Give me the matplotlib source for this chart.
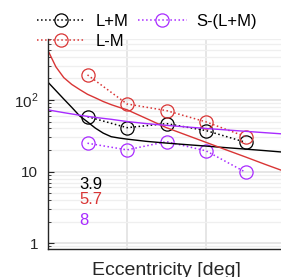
import matplotlib
matplotlib.use("Agg")
import matplotlib.pyplot as plt

plt.rcParams["font.family"] = ["Liberation Sans", "DejaVu Sans"]
plt.rcParams["mathtext.fontset"] = "custom"
plt.rcParams["mathtext.rm"] = "Liberation Sans"

# measured thresholds at each eccentricity
ecc = [5, 10, 15, 20, 25]
lum = [58.5, 41, 46.8, 37.4, 25.7]       # L+M
rg = [224, 88, 71, 49.4, 30.8]           # L-M
by = [24.9, 20.1, 26.2, 19.5, 9.8]       # S-(L+M)

# fitted curves
fit_x = [0, 1, 2, 3, 4, 5, 6, 7, 8, 9, 10, 12.5, 15, 17.5, 20, 22.5, 25, 27.5, 30]
fit_lum = [177, 135, 103, 79, 60, 49.4, 40.4, 34.4, 30.7, 29.4, 28.4, 26.4, 25.0,
           23.8, 22.7, 21.6, 20.6, 19.6, 18.6]
fit_rg = [490, 290, 205, 165, 140, 120, 107, 95, 86, 79, 73, 54.8, 41.0,
          32.4, 25.6, 20.2, 16.0, 12.6, 10.0]
fit_by = [72.7, 69.5, 66.5, 63.8, 61.2, 59, 57, 55.3, 53.7, 51.8, 50, 46.7, 44.2,
          42, 40, 38.2, 36.5, 34.9, 33.4]

# annotation numbers
labels = ["3.9", "5.7", "8"]
label_y = [5.68, 3.54, 1.80]

c_lum = "#000000"
c_rg = "#d93535"
c_by = "#a82bff"

fig = plt.figure(figsize=(2.81, 2.77), dpi=100)
ax = fig.add_axes([48 / 281, 1 - 249 / 277, 237 / 281, 210 / 277])

ax.set_yscale("log")
ax.set_xlim(0, 30)
ax.set_ylim(0.83, 710)

ax.grid(True, which="major", color="#e2e2e2", lw=1.2)
ax.grid(True, which="minor", axis="y", color="#efefef", lw=0.9)
ax.set_axisbelow(True)

mk = dict(marker="o", ms=9.5, mfc="none", mew=0.9, ls=":", lw=1.1)
h1, = ax.plot(ecc, lum, color=c_lum, label="L+M", **mk)
h2, = ax.plot(ecc, rg, color=c_rg, label="L-M", **mk)
h3, = ax.plot(ecc, by, color=c_by, label="S-(L+M)", **mk)

ax.plot(fit_x, fit_lum, color=c_lum, lw=1.0)
ax.plot(fit_x, fit_rg, color=c_rg, lw=1.0)
ax.plot(fit_x, fit_by, color=c_by, lw=1.0)

for txt, yv, col in zip(labels, label_y, [c_lum, c_rg, c_by]):
    ax.text(3.95, yv, txt, color=col, fontsize=12, ha="left", va="baseline")

ax.set_yticks([1, 10, 100])
ax.set_yticklabels(["1", "10", "$10^2$"])
ax.set_xticks([10, 20, 30])
ax.set_xticklabels([])
ax.tick_params(axis="both", which="both", direction="in", colors="#262626")
ax.tick_params(axis="y", which="major", length=4, labelsize=11, pad=7)
ax.tick_params(axis="y", which="minor", length=2.5)
ax.tick_params(axis="x", length=0)

for s in ["top", "right"]:
    ax.spines[s].set_visible(False)
for s in ["left", "bottom"]:
    ax.spines[s].set_color("#262626")
    ax.spines[s].set_linewidth(1.0)

ax.set_xlabel("Eccentricity [deg]", fontsize=14, color="#262626", labelpad=6)

fig.legend(handles=[h1, h2, h3], ncol=2, frameon=False, fontsize=12,
           loc="upper left", bbox_to_anchor=(37 / 281, 1 - 14 / 277),
           borderpad=0, borderaxespad=0, handlelength=2.9, handletextpad=0.6,
           columnspacing=0.6, labelspacing=0.3)

fig.savefig("out.png", dpi=100)
